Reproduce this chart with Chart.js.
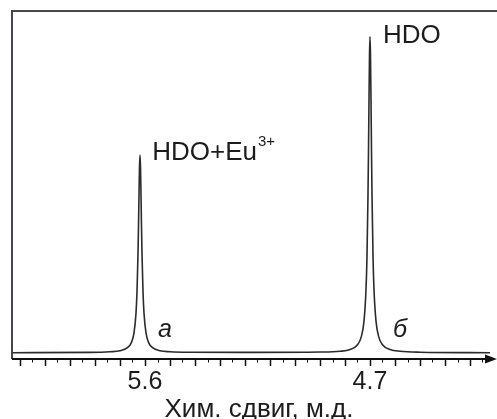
<!DOCTYPE html>
<html>
<head>
<meta charset="utf-8">
<script src="https://cdn.jsdelivr.net/npm/chart.js@4/dist/chart.umd.min.js"></script>
<style>
  html, body { margin: 0; padding: 0; background: #fff; }
  #wrap { width: 497px; height: 419px; position: relative; }
</style>
</head>
<body>
<div id="wrap"><canvas id="nmr"></canvas></div>
<script>
// Спектр: химический сдвиг (м.д.) и интенсивность
const shiftPpm = [
  6.13, 5.82, 5.74, 5.70, 5.67, 5.655, 5.644, 5.636, 5.632, 5.628, 5.626, 5.624, 5.622,
  5.62,
  5.618, 5.616, 5.614, 5.612, 5.608, 5.604, 5.596, 5.585, 5.57, 5.54, 5.50, 5.42,
  5.16,
  4.90, 4.82, 4.78, 4.75, 4.735, 4.724, 4.716, 4.712, 4.708, 4.706, 4.704, 4.702,
  4.70,
  4.698, 4.696, 4.694, 4.692, 4.688, 4.684, 4.676, 4.665, 4.65, 4.62, 4.58, 4.50, 4.22
];
const intensity = [
  0, 0.001, 0.003, 0.006, 0.016, 0.031, 0.063, 0.125, 0.193, 0.313, 0.40, 0.50, 0.589,
  0.626,
  0.589, 0.50, 0.40, 0.313, 0.193, 0.125, 0.063, 0.031, 0.016, 0.006, 0.003, 0.0015,
  0.001,
  0.002, 0.0045, 0.01, 0.025, 0.05, 0.1, 0.2, 0.308, 0.5, 0.64, 0.8, 0.941,
  1.0,
  0.941, 0.8, 0.64, 0.5, 0.308, 0.2, 0.1, 0.05, 0.025, 0.01, 0.0045, 0.0016, 0
];

// Деления оси
const majorTicks = [6.1, 6.0, 5.9, 5.8, 5.7, 5.6, 5.5, 5.4, 5.3, 5.2, 5.1, 5.0, 4.9, 4.8, 4.7, 4.6, 4.5, 4.4, 4.3];
const minorTicks = [6.05, 5.95, 5.85, 5.75, 5.65, 5.55, 5.45, 5.35, 5.25, 5.15, 5.05, 4.95, 4.85, 4.75, 4.65, 4.55, 4.45, 4.35, 4.25];
const tickLabels = ['5.6', '4.7'];

// Подписи пиков
const peakLabels = [
  { text: 'HDO+Eu', sup: '3+', x: 5.571, y: 0.610 },
  { text: 'HDO', sup: '', x: 4.648, y: 0.981 }
];
const caseLabels = [
  { text: 'а', x: 5.548, y: 0.05 },
  { text: 'б', x: 4.608, y: 0.05 }
];

const FONT = '"Liberation Sans", Arial, sans-serif';
const INK = '#1c1c1c';
const FRAME = '#4a4450';

const framePlugin = {
  id: 'frame',
  afterDraw(chart) {
    const { ctx, chartArea: a, scales: { x, y } } = chart;
    const axisY = a.bottom;
    ctx.save();

    // рамка: верх и левый край
    ctx.strokeStyle = FRAME;
    ctx.lineWidth = 2;
    ctx.beginPath();
    ctx.moveTo(chart.width, a.top);
    ctx.lineTo(a.left, a.top);
    ctx.lineTo(a.left, axisY);
    ctx.stroke();

    // ось X со стрелкой
    ctx.strokeStyle = '#111';
    ctx.beginPath();
    ctx.moveTo(a.left, axisY);
    ctx.lineTo(chart.width - 6, axisY);
    ctx.stroke();
    ctx.fillStyle = '#111';
    ctx.beginPath();
    ctx.moveTo(chart.width, axisY);
    ctx.lineTo(chart.width - 12, axisY - 4.5);
    ctx.lineTo(chart.width - 12, axisY + 4.5);
    ctx.closePath();
    ctx.fill();

    // деления
    ctx.lineWidth = 1.5;
    majorTicks.forEach(v => {
      const px = Math.round(x.getPixelForValue(v)) + 0.5;
      ctx.beginPath();
      ctx.moveTo(px, axisY);
      ctx.lineTo(px, axisY + 7);
      ctx.stroke();
    });
    ctx.lineWidth = 1;
    minorTicks.forEach(v => {
      const px = Math.round(x.getPixelForValue(v)) + 0.5;
      if (px > chart.width - 12) return;
      ctx.beginPath();
      ctx.moveTo(px, axisY);
      ctx.lineTo(px, axisY + 3.5);
      ctx.stroke();
    });

    // подписи делений
    ctx.fillStyle = INK;
    ctx.font = '25px ' + FONT;
    ctx.textAlign = 'center';
    ctx.textBaseline = 'alphabetic';
    tickLabels.forEach(t => {
      ctx.fillText(t, x.getPixelForValue(parseFloat(t)), 389);
    });

    // название оси
    ctx.font = '26px ' + FONT;
    ctx.fillText('Хим. сдвиг, м.д.', 259, 417);

    // подписи пиков
    ctx.textAlign = 'left';
    peakLabels.forEach(p => {
      const px = x.getPixelForValue(p.x);
      const py = y.getPixelForValue(p.y);
      ctx.font = '26px ' + FONT;
      ctx.fillText(p.text, px, py);
      if (p.sup) {
        const w = ctx.measureText(p.text).width;
        ctx.font = '15px ' + FONT;
        ctx.fillText(p.sup, px + w + 1, py - 14);
      }
    });
    ctx.font = 'italic 25px ' + FONT;
    caseLabels.forEach(c => {
      ctx.fillText(c.text, x.getPixelForValue(c.x), y.getPixelForValue(c.y));
    });

    ctx.restore();
  }
};

new Chart(document.getElementById('nmr'), {
  type: 'line',
  data: {
    datasets: [{
      data: shiftPpm.map((s, i) => ({ x: s, y: intensity[i] })),
      borderColor: '#2b2b2b',
      borderWidth: 1.6,
      pointRadius: 0,
      fill: false,
      cubicInterpolationMode: 'monotone'
    }]
  },
  options: {
    responsive: true,
    maintainAspectRatio: false,
    animation: false,
    layout: { padding: { left: 12, top: 11, right: 7, bottom: 60 } },
    scales: {
      x: { type: 'linear', reverse: true, min: 4.22, max: 6.132, display: false },
      y: { min: -0.02, max: 1.082, display: false }
    },
    plugins: {
      legend: { display: false },
      tooltip: { enabled: false }
    }
  },
  plugins: [framePlugin]
});
</script>
</body>
</html>
